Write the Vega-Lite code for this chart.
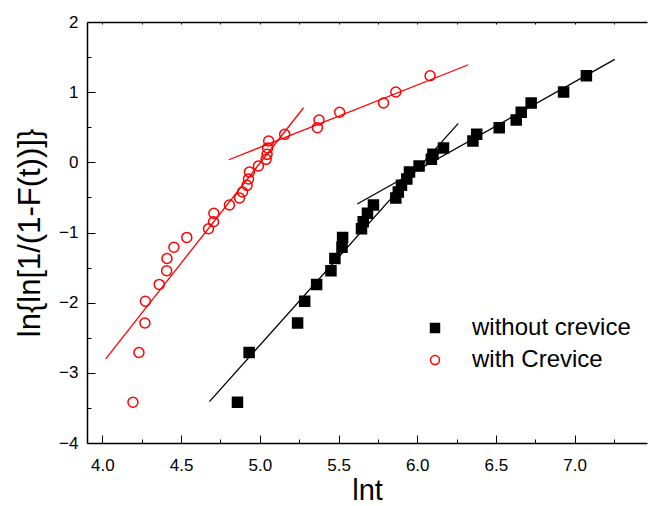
{
  "$schema": "https://vega.github.io/schema/vega-lite/v6.json",
  "width": 560,
  "height": 421,
  "autosize": {"type": "none"},
  "padding": {"left": 87, "top": 22, "right": 1, "bottom": 63},
  "background": "white",
  "config": {
    "view": {"stroke": null},
    "font": "Liberation Sans",
    "axis": {"grid": false, "domainColor": "black", "tickColor": "black", "labelColor": "black", "titleColor": "black", "domainWidth": 1.5, "tickWidth": 1, "labelFont": "Liberation Sans", "titleFont": "Liberation Sans", "titleFontWeight": "normal"}
  },
  "datasets": {
    "pts": [
      {"series": "without crevice", "x": 4.858, "y": -3.42},
      {"series": "without crevice", "x": 4.932, "y": -2.71},
      {"series": "without crevice", "x": 5.240, "y": -2.29},
      {"series": "without crevice", "x": 5.285, "y": -1.98},
      {"series": "without crevice", "x": 5.361, "y": -1.74},
      {"series": "without crevice", "x": 5.452, "y": -1.545},
      {"series": "without crevice", "x": 5.477, "y": -1.37},
      {"series": "without crevice", "x": 5.522, "y": -1.21},
      {"series": "without crevice", "x": 5.526, "y": -1.07},
      {"series": "without crevice", "x": 5.646, "y": -0.946},
      {"series": "without crevice", "x": 5.657, "y": -0.846},
      {"series": "without crevice", "x": 5.684, "y": -0.727},
      {"series": "without crevice", "x": 5.722, "y": -0.608},
      {"series": "without crevice", "x": 5.864, "y": -0.509},
      {"series": "without crevice", "x": 5.880, "y": -0.423},
      {"series": "without crevice", "x": 5.900, "y": -0.328},
      {"series": "without crevice", "x": 5.934, "y": -0.238},
      {"series": "without crevice", "x": 5.951, "y": -0.138},
      {"series": "without crevice", "x": 6.012, "y": -0.053},
      {"series": "without crevice", "x": 6.090, "y": 0.043},
      {"series": "without crevice", "x": 6.100, "y": 0.114},
      {"series": "without crevice", "x": 6.167, "y": 0.204},
      {"series": "without crevice", "x": 6.354, "y": 0.304},
      {"series": "without crevice", "x": 6.378, "y": 0.399},
      {"series": "without crevice", "x": 6.521, "y": 0.494},
      {"series": "without crevice", "x": 6.629, "y": 0.603},
      {"series": "without crevice", "x": 6.661, "y": 0.713},
      {"series": "without crevice", "x": 6.724, "y": 0.845},
      {"series": "without crevice", "x": 6.930, "y": 1.002},
      {"series": "without crevice", "x": 7.075, "y": 1.234},
      {"series": "with Crevice", "x": 4.194, "y": -3.42},
      {"series": "with Crevice", "x": 4.232, "y": -2.71},
      {"series": "with Crevice", "x": 4.270, "y": -2.29},
      {"series": "with Crevice", "x": 4.273, "y": -1.98},
      {"series": "with Crevice", "x": 4.361, "y": -1.74},
      {"series": "with Crevice", "x": 4.408, "y": -1.545},
      {"series": "with Crevice", "x": 4.410, "y": -1.37},
      {"series": "with Crevice", "x": 4.454, "y": -1.21},
      {"series": "with Crevice", "x": 4.536, "y": -1.07},
      {"series": "with Crevice", "x": 4.674, "y": -0.946},
      {"series": "with Crevice", "x": 4.706, "y": -0.846},
      {"series": "with Crevice", "x": 4.708, "y": -0.727},
      {"series": "with Crevice", "x": 4.807, "y": -0.608},
      {"series": "with Crevice", "x": 4.871, "y": -0.509},
      {"series": "with Crevice", "x": 4.890, "y": -0.423},
      {"series": "with Crevice", "x": 4.919, "y": -0.328},
      {"series": "with Crevice", "x": 4.928, "y": -0.238},
      {"series": "with Crevice", "x": 4.934, "y": -0.138},
      {"series": "with Crevice", "x": 4.991, "y": -0.053},
      {"series": "with Crevice", "x": 5.040, "y": 0.043},
      {"series": "with Crevice", "x": 5.046, "y": 0.114},
      {"series": "with Crevice", "x": 5.050, "y": 0.204},
      {"series": "with Crevice", "x": 5.056, "y": 0.304},
      {"series": "with Crevice", "x": 5.158, "y": 0.399},
      {"series": "with Crevice", "x": 5.366, "y": 0.494},
      {"series": "with Crevice", "x": 5.376, "y": 0.603},
      {"series": "with Crevice", "x": 5.507, "y": 0.713},
      {"series": "with Crevice", "x": 5.786, "y": 0.845},
      {"series": "with Crevice", "x": 5.864, "y": 1.002},
      {"series": "with Crevice", "x": 6.082, "y": 1.234}
    ],
    "fits": [
      {"series": "without crevice", "seg": "steep", "x": 4.680, "y": -3.41},
      {"series": "without crevice", "seg": "steep", "x": 6.261, "y": 0.556},
      {"series": "without crevice", "seg": "shallow", "x": 5.619, "y": -0.594},
      {"series": "without crevice", "seg": "shallow", "x": 7.255, "y": 1.468},
      {"series": "with Crevice", "seg": "steep", "x": 4.021, "y": -2.80},
      {"series": "with Crevice", "seg": "steep", "x": 5.278, "y": 0.778},
      {"series": "with Crevice", "seg": "shallow", "x": 4.803, "y": 0.037},
      {"series": "with Crevice", "seg": "shallow", "x": 6.325, "y": 1.391}
    ]
  },
  "resolve": {"axis": {"x": "independent", "y": "independent"}},
  "layer": [
    {
      "data": {"name": "fits"},
      "transform": [{"filter": "datum.series === 'without crevice'"}],
      "mark": {"type": "line", "stroke": "black", "strokeWidth": 1.3},
      "encoding": {
        "x": {"field": "x", "type": "quantitative", "scale": {"domain": [3.902, 7.46], "nice": false, "zero": false},
              "axis": {"orient": "bottom", "values": [4.25, 4.75, 5.25, 5.75, 6.25, 6.75, 7.25], "labels": false, "domain": false, "tickSize": -4, "title": null}},
        "y": {"field": "y", "type": "quantitative", "scale": {"domain": [-4, 2], "nice": false, "zero": false},
              "axis": {"orient": "left", "values": [-3.5, -2.5, -1.5, -0.5, 0.5, 1.5], "labels": false, "domain": false, "tickSize": -4, "title": null}},
        "detail": {"field": "seg"}
      }
    },
    {
      "data": {"name": "fits"},
      "transform": [{"filter": "datum.series === 'with Crevice'"}],
      "mark": {"type": "line", "stroke": "#ff0000", "strokeWidth": 1.3},
      "encoding": {
        "x": {"field": "x", "type": "quantitative",
              "axis": {"orient": "top", "values": [4, 4.25, 4.5, 4.75, 5, 5.25, 5.5, 5.75, 6, 6.25, 6.5, 6.75, 7, 7.25], "labels": false, "domain": true, "tickSize": -2, "title": null}},
        "y": {"field": "y", "type": "quantitative", "axis": null},
        "detail": {"field": "seg"}
      }
    },
    {
      "data": {"name": "pts"},
      "mark": {"type": "point", "size": 100, "strokeWidth": 1.5, "opacity": 1},
      "encoding": {
        "x": {"field": "x", "type": "quantitative",
              "axis": {"orient": "bottom", "values": [4, 4.5, 5, 5.5, 6, 6.5, 7], "format": ".1f", "tickSize": -8, "labelPadding": 22, "labelFontSize": 17, "title": "lnt", "titleFontSize": 29, "titlePadding": 3}},
        "y": {"field": "y", "type": "quantitative",
              "axis": {"orient": "left", "values": [-4, -3, -2, -1, 0, 1, 2], "tickSize": -8, "labelPadding": 17, "labelFontSize": 17, "title": "ln{ln[1/(1-F(t))]}", "titleFontSize": 31, "titlePadding": 12}},
        "shape": {"field": "series", "type": "nominal", "scale": {"domain": ["without crevice", "with Crevice"], "range": ["square", "circle"]},
                  "legend": {"orient": "none", "legendX": 336, "legendY": 294, "title": null, "labelFontSize": 24, "labelFont": "Liberation Sans", "labelColor": "black", "labelOffset": 25, "symbolSize": 80, "rowPadding": 8, "padding": 0, "symbolStrokeWidth": 1.5}},
        "fill": {"field": "series", "type": "nominal", "scale": {"domain": ["without crevice", "with Crevice"], "range": ["black", "transparent"]}},
        "stroke": {"field": "series", "type": "nominal", "scale": {"domain": ["without crevice", "with Crevice"], "range": ["black", "#ff0000"]}}
      }
    }
  ]
}
